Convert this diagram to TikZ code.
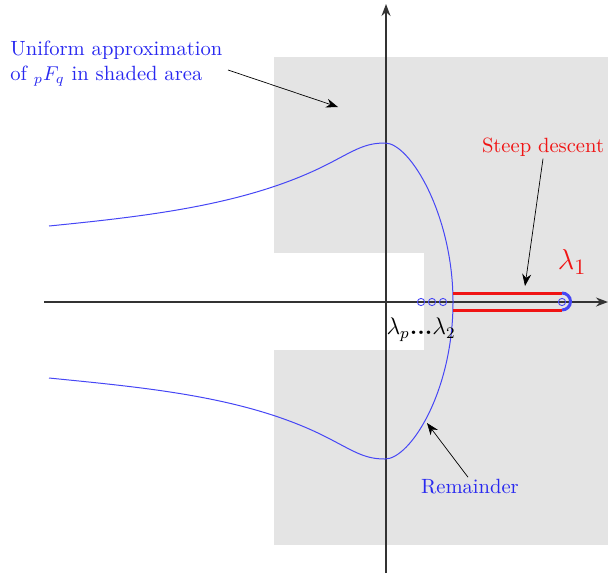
\documentclass[tikz,border=0pt]{standalone}
\usetikzlibrary{arrows.meta}
\definecolor{shadegray}{RGB}{228,228,228}
\definecolor{cblue}{RGB}{70,70,245}
\definecolor{tblue}{RGB}{40,40,240}
\definecolor{cred}{RGB}{240,20,20}
\begin{document}
\begin{tikzpicture}[x=0.5pt,y=-0.5pt,
  lbl/.style={font=\fontsize{10.3}{12.3}\selectfont,inner sep=0pt},
  axis/.style={draw=black!80,line width=0.7pt,-{Stealth[length=6pt,width=4.5pt]}},
  pointer/.style={draw=black,line width=0.35pt,-{Stealth[length=6pt,width=4.5pt]}},
  pole/.style={draw=cblue,line width=0.45pt,circle,minimum size=3.6pt,inner sep=0pt}]
\useasboundingbox (0,0) rectangle (608,573);
% shaded area
\fill[shadegray] (274,57) rectangle (608,545);
\fill[white] (274,253) rectangle (424,350);
% axes
\coordinate (xs) at (44,302);
\coordinate (xe) at (608,302);
\coordinate (ys) at (386,573);
\coordinate (ye) at (386,4);
\draw[axis] (xs) -- (xe);
\draw[axis] (ys) -- (ye);
% blue contour
\draw[cblue,line width=0.5pt] (49,226) .. controls (149,216) and (250,204.6) .. (330,163)
  .. controls (355,150) and (365,143) .. (385,143)
  .. controls (410,143) and (453,215) .. (453,302)
  .. controls (453,392) and (410,459) .. (385,459)
  .. controls (365,459) and (355,452) .. (330,439)
  .. controls (250,397) and (149,388) .. (49,378);
% steep descent
\draw[cred,line width=1.5pt] (453,293) -- (562,293);
\draw[cred,line width=1.5pt] (453,310) -- (562,310);
\draw[cblue,line width=1.5pt] (562,293) arc[start angle=-90,end angle=90,radius=8.5];
\node[pole] (l1) at (562,302) {};
\node[pole] (p3) at (421,302) {};
\node[pole] (p2) at (432,302) {};
\node[pole] (p1) at (443,302) {};
% labels
\node[lbl,text=tblue,align=left,anchor=north west] (uni) at (10,41)
  {Uniform approximation\\of ${}_pF_q$ in shaded area};
\coordinate (unitip) at (338,107);
\draw[pointer] (228,70) -- (unitip);
\node[lbl,text=cred] (sd) at (543,147) {Steep descent};
\coordinate (sdtip) at (525,286);
\draw[pointer] (sd.south) ++(0,2) -- (sdtip);
\node[lbl,text=cred,font=\fontsize{15}{17}\selectfont] (lam1) at (572,262) {$\lambda_1$};
\node[lbl,text=black,font=\fontsize{12}{14}\selectfont] (lamp) at (421,330) {$\lambda_p$\textbf{...}$\lambda_2$};
\node[lbl,text=tblue] (rem) at (470,487) {Remainder};
\coordinate (remtip) at (427,423);
\draw[pointer] (rem.north) ++(-2,-2) -- (remtip);
\end{tikzpicture}
\end{document}
